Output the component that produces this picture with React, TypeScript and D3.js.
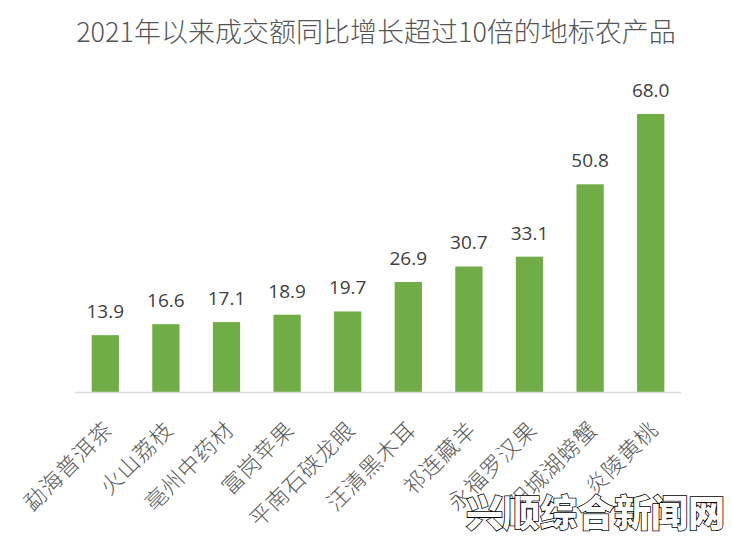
import React from "react";
import * as d3 from "d3";

const categories = ["勐海普洱茶", "火山荔枝", "亳州中药材", "富岗苹果", "平南石硖龙眼", "汪清黑木耳", "祁连藏羊", "永福罗汉果", "阳城湖螃蟹", "炎陵黄桃"];
const values = [13.9, 16.6, 17.1, 18.9, 19.7, 26.9, 30.7, 33.1, 50.8, 68.0];
const title = "2021年以来成交额同比增长超过10倍的地标农产品";
const watermark = "兴顺综合新闻网";

const W = 732, H = 543;
const left = 75, right = 681, baseY = 392;

export default function App() {
  const x = d3.scaleBand<string>().domain(categories).range([left, right]).paddingInner(0.55).paddingOuter(0.275);
  const y = d3.scaleLinear().domain([0, 68]).range([baseY, 114]);
  return (
    <svg width={W} height={H} style={{ position: "absolute", left: 0, top: 0, background: "#fff" }}>
      <rect width={W} height={H} fill="#fff" />
      <text x={376} y={42} textAnchor="middle" fontFamily="'Noto Sans CJK SC', sans-serif" fontWeight={300} fontSize={27} fill="#555">{title}</text>
      {categories.map((c, i) => {
        const bx = x(c)!;
        const cx = bx + x.bandwidth() / 2;
        return (
          <g key={c}>
            <rect x={bx} y={y(values[i])} width={x.bandwidth()} height={baseY - y(values[i])} fill="#70ad47" />
            <text x={cx} y={y(values[i]) - 17} textAnchor="middle" fontFamily="'Open Sans', sans-serif" fontSize={19} fill="#404040">{values[i].toFixed(1)}</text>
            <text transform={`translate(${cx + 9},${431}) rotate(-45)`} textAnchor="end" fontFamily="'Noto Sans CJK SC', serif" fontWeight={300} fontSize={22} letterSpacing={1} fill="#595959">{c}</text>
          </g>
        );
      })}
      <line x1={left} x2={right} y1={baseY + 0.5} y2={baseY + 0.5} stroke="#d9d9d9" strokeWidth={1.5} />
      <text x={466} y={527} fontFamily="'Noto Sans CJK SC', sans-serif" fontWeight={900} fontSize={37} fill="#fff" stroke="#000" strokeWidth={1.6} paintOrder="stroke">{watermark}</text>
    </svg>
  );
}
